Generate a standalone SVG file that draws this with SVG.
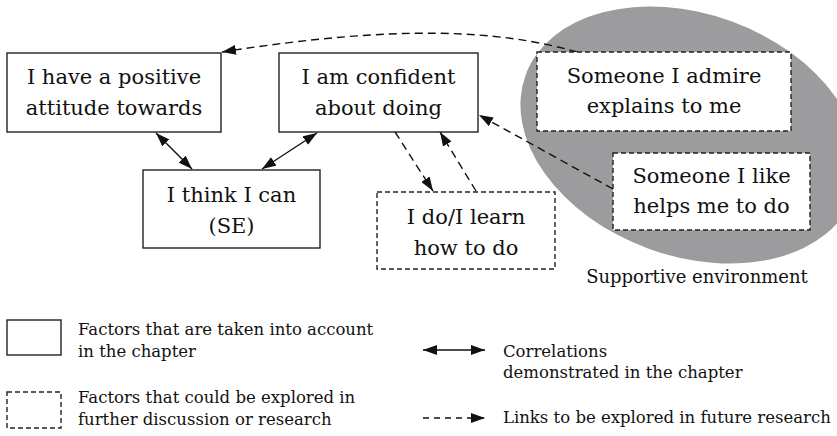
<svg xmlns="http://www.w3.org/2000/svg" width="837" height="436" viewBox="0 0 837 436">
  <style>
    .box { fill: #fff; stroke: #222; stroke-width: 1.4; }
    .dbox { fill: #fff; stroke: #222; stroke-width: 1.4; stroke-dasharray: 5 3; }
    .t { font-family: 'DejaVu Serif', serif; font-size: 21px; fill: #111; text-anchor: middle; }
    .s { font-family: 'DejaVu Serif', serif; font-size: 16.5px; fill: #111; }
    .cap { font-family: 'DejaVu Serif', serif; font-size: 18px; fill: #111; text-anchor: middle; }
    .link { fill: none; stroke: #111; stroke-width: 1.4; }
    .dash { stroke-dasharray: 8 5; }
  </style>
  <defs>
    <marker id="head" viewBox="0 0 14 10" refX="14" refY="5" markerWidth="14" markerHeight="10" markerUnits="userSpaceOnUse" orient="auto-start-reverse">
      <path d="M0,0 L14,5 L0,10 Z" fill="#111"/>
    </marker>
  </defs>

  <!-- supportive environment backdrop -->
  <g id="environment">
    <ellipse cx="690" cy="135" rx="175" ry="121" transform="rotate(20 690 135)" fill="#9c9c9e"/>
    <text class="cap" x="697" y="283">Supportive environment</text>
  </g>

  <!-- connectors -->
  <g id="connectors">
    <path class="link" d="M156,133 L192,169" marker-start="url(#head)" marker-end="url(#head)"/>
    <path class="link" d="M262,169 L317,133" marker-start="url(#head)" marker-end="url(#head)"/>
    <path class="link dash" d="M577,52 C500,30 400,24 222,52" marker-end="url(#head)"/>
    <path class="link dash" d="M395,132 L433,191" marker-end="url(#head)"/>
    <path class="link dash" d="M476,191 L440,132" marker-end="url(#head)"/>
    <path class="link dash" d="M613,189 L479,115" marker-end="url(#head)"/>
  </g>

  <g id="attitude">
    <rect class="box" x="7" y="53" width="214" height="79"/>
    <text class="t" x="114" y="84">I have a positive</text>
    <text class="t" x="114" y="115">attitude towards</text>
  </g>

  <g id="confident">
    <rect class="box" x="279" y="53" width="199" height="79"/>
    <text class="t" x="378.5" y="84">I am confident</text>
    <text class="t" x="378.5" y="115">about doing</text>
  </g>

  <g id="self-efficacy">
    <rect class="box" x="143" y="170" width="177" height="78"/>
    <text class="t" x="231.5" y="202">I think I can</text>
    <text class="t" x="231.5" y="233">(SE)</text>
  </g>

  <g id="doing">
    <rect class="dbox" x="377" y="192" width="178" height="77"/>
    <text class="t" x="466" y="224">I do/I learn</text>
    <text class="t" x="466" y="255">how to do</text>
  </g>

  <g id="admire">
    <rect class="dbox" x="537" y="52" width="254" height="79"/>
    <text class="t" x="664" y="83">Someone I admire</text>
    <text class="t" x="664" y="113">explains to me</text>
  </g>

  <g id="like">
    <rect class="dbox" x="613" y="153" width="197" height="77"/>
    <text class="t" x="711.5" y="183">Someone I like</text>
    <text class="t" x="711.5" y="213">helps me to do</text>
  </g>

  <!-- legend -->
  <g id="legend">
    <rect class="box" x="7" y="320" width="54" height="35"/>
    <text class="s" x="78" y="335">Factors that are taken into account</text>
    <text class="s" x="78" y="357">in the chapter</text>

    <rect class="dbox" x="7" y="392" width="54" height="36"/>
    <text class="s" x="78" y="403">Factors that could be explored in</text>
    <text class="s" x="78" y="425">further discussion or research</text>

    <path class="link" d="M423,350 L485,350" marker-start="url(#head)" marker-end="url(#head)"/>
    <text class="s" x="503" y="357">Correlations</text>
    <text class="s" x="503" y="378">demonstrated in the chapter</text>

    <path class="link" d="M423,418 L485,418" stroke-dasharray="6 5" marker-end="url(#head)"/>
    <text class="s" x="503" y="423">Links to be explored in future research</text>
  </g>
</svg>
